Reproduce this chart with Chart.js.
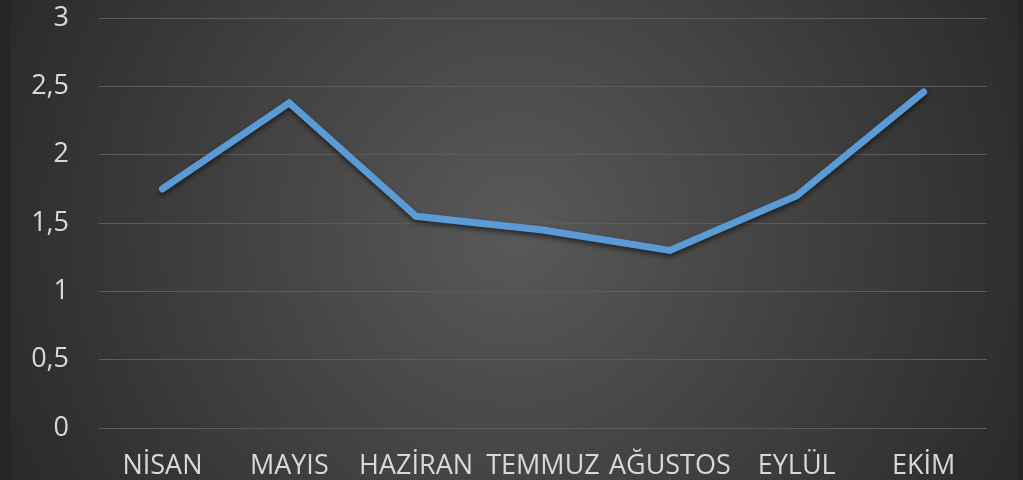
<!DOCTYPE html>
<html>
<head>
<meta charset="utf-8">
<script src="https://cdn.jsdelivr.net/npm/chart.js@4"></script>
<style>
  html, body { margin: 0; padding: 0; background: #262626; }
  #wrap { width: 1023px; height: 480px; }
</style>
</head>
<body>
<div id="wrap"><canvas id="myChartLine" width="1023" height="480"></canvas></div>
<script>
var aylar = ['NİSAN', 'MAYIS', 'HAZİRAN', 'TEMMUZ', 'AĞUSTOS', 'EYLÜL', 'EKİM'];
var degerler = [1.75, 2.38, 1.55, 1.45, 1.3, 1.7, 2.46];
var yTicks = [0, 0.5, 1, 1.5, 2, 2.5, 3];

// arka plan: koyu radyal gradyan
var arkaPlan = {
    id: 'arkaPlan',
    beforeDraw: function (chart) {
        var c = chart.ctx;
        c.save();
        c.fillStyle = '#262626';
        c.fillRect(0, 0, chart.width, chart.height);
        var g = c.createRadialGradient(515, 230, 0, 515, 230, 560);
        g.addColorStop(0, '#595959');
        g.addColorStop(1, '#2a2a2a');
        c.fillStyle = g;
        c.fillRect(11, 0, 1007, chart.height);
        c.restore();
    }
};

// cizgiye hafif golge
var golge = {
    id: 'golge',
    beforeDatasetDraw: function (chart) {
        var c = chart.ctx;
        c.save();
        c.shadowColor = 'rgba(0,0,0,0.55)';
        c.shadowBlur = 5;
        c.shadowOffsetY = 3;
    },
    afterDatasetDraw: function (chart) {
        chart.ctx.restore();
    }
};

var ctx = document.getElementById('myChartLine').getContext('2d');

var myChart = new Chart(ctx, {
    type: 'line',
    data: {
        labels: aylar,
        datasets: [{
            data: degerler,
            fill: false,
            borderColor: '#5B9BD5',
            borderWidth: 7,
            borderCapStyle: 'round',
            borderJoinStyle: 'miter',
            pointRadius: 0,
            tension: 0
        }]
    },
    options: {
        responsive: false,
        animation: false,
        layout: { padding: { top: 0, right: 36, left: 0, bottom: 0 } },
        plugins: { legend: { display: false }, tooltip: { enabled: false } },
        scales: {
            x: {
                offset: true,
                grid: { display: false, drawTicks: false },
                border: { display: false },
                ticks: {
                    color: '#d9d9d9',
                    font: { family: 'Open Sans', size: 27 },
                    padding: 22,
                    maxRotation: 0,
                    autoSkip: false
                },
                afterFit: function (s) { s.height = 52; }
            },
            y: {
                min: 0,
                max: 3,
                afterBuildTicks: function (s) {
                    s.ticks = yTicks.map(function (v) { return { value: v }; });
                },
                grid: {
                    color: '#5c5c5c',
                    lineWidth: 1,
                    drawTicks: true,
                    tickLength: 28,
                    tickColor: 'rgba(0,0,0,0)'
                },
                border: { display: false },
                ticks: {
                    color: '#d9d9d9',
                    font: { family: 'Open Sans', size: 27 },
                    padding: 2,
                    callback: function (v) { return String(v).replace('.', ','); }
                },
                afterFit: function (s) { s.width = 99; }
            }
        }
    },
    plugins: [arkaPlan, golge]
});
</script>
</body>
</html>
